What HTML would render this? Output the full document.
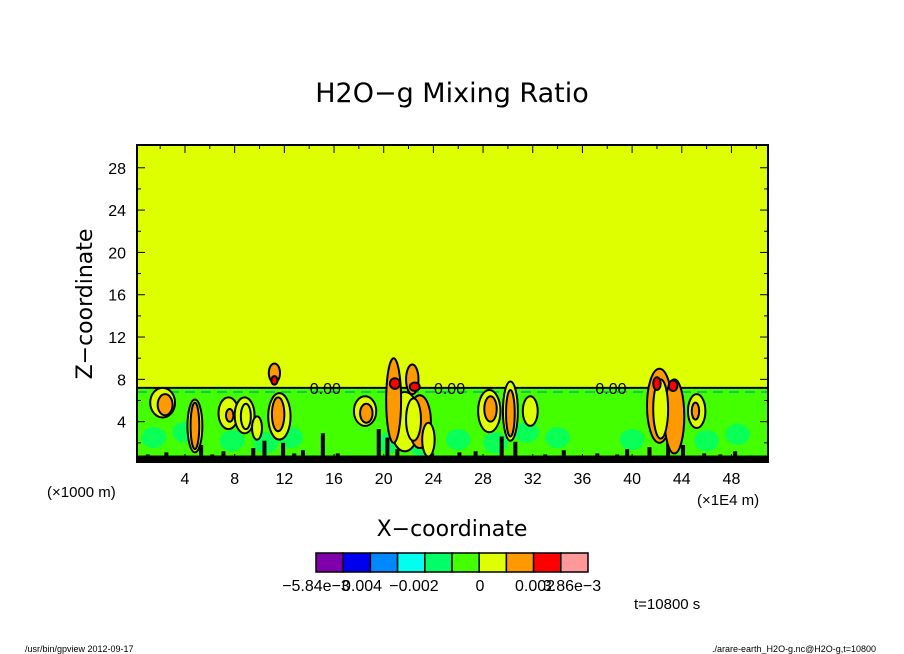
<!DOCTYPE html>
<html><head><meta charset="utf-8"><style>
body{margin:0;background:#fff;width:904px;height:654px;overflow:hidden}
svg{display:block;font-family:"Liberation Sans","DejaVu Sans",sans-serif}
</style></head><body>
<svg id="chart" width="904" height="654" xmlns="http://www.w3.org/2000/svg">
<text x="452" y="102" font-size="27" text-anchor="middle" font-family="DejaVu Sans">H2O−g Mixing Ratio</text>
<g id="plot"></g>
<g id="axes"></g>
<text x="452" y="536" font-size="22" text-anchor="middle" font-family="DejaVu Sans">X−coordinate</text>
<text x="0" y="0" font-size="22" text-anchor="middle" font-family="DejaVu Sans" transform="translate(92,304) rotate(-90)">Z−coordinate</text>
<text x="47" y="497" font-size="15">(×1000 m)</text>
<text x="697" y="505" font-size="15">(×1E4 m)</text>
<g id="cbar"></g>
<text x="634" y="609" font-size="15">t=10800 s</text>
<text x="25" y="652" font-size="9">/usr/bin/gpview  2012-09-17</text>
<text x="876" y="652" font-size="9" text-anchor="end">./arare-earth_H2O-g.nc@H2O-g,t=10800</text>
</svg>
<script>
const xTicks=[4,8,12,16,20,24,28,32,36,40,44,48];
const zTicks=[4,8,12,16,20,24,28];
const layerTop=7.2;
// blobs: x, z, rx(x units), rz(z units), level (6=yellow,7=orange,8=red)
const blobX=[2.2,2.4,4.8,4.8,7.5,7.6,8.8,8.9,9.8,11.6,11.5,11.2,11.2,18.5,18.6,21.7,20.8,22.3,22.9,23.6,22.4,28.5,28.6,30.2,30.2,31.8,42.2,43.4,42.3,42.0,43.3,45.2,45.1,20.9,22.5];
const blobZ=[5.8,5.6,3.6,3.6,4.8,4.6,4.6,4.5,3.4,4.5,4.7,8.6,7.9,5.0,4.8,4.0,6.0,8.0,4.0,2.3,4.2,5.0,5.2,5.0,4.8,5.0,5.5,4.5,5.2,7.6,7.4,5.0,5.0,7.6,7.3];
const blobRX=[1.0,0.6,0.6,0.35,0.8,0.3,0.8,0.4,0.4,0.9,0.5,0.45,0.25,0.9,0.5,1.2,0.6,0.5,0.9,0.5,0.6,0.9,0.5,0.6,0.35,0.6,1.0,0.8,0.6,0.3,0.35,0.7,0.3,0.4,0.4];
const blobRZ=[1.4,1.0,2.5,2.2,1.5,0.6,1.7,1.2,1.1,2.2,1.6,0.9,0.4,1.4,0.9,2.8,4.0,1.4,2.5,1.6,2.0,2.0,1.2,2.8,2.2,1.4,3.5,3.5,2.8,0.6,0.5,1.6,0.8,0.5,0.4];
const blobLevel=[6,7,6,7,6,7,6,6,6,6,7,7,8,6,7,6,7,7,7,6,6,6,7,6,7,6,7,7,6,8,8,6,7,8,8];
// ground clutter: black spikes
const spikeX=[1,2.5,4.1,5.3,6.2,7.1,8.2,9.5,10.4,11.9,12.8,13.5,14.4,15.1,16.3,17.2,19.6,20.3,21.1,23.9,25.2,26.1,27.4,29.5,30.6,33.0,34.5,35.6,37.2,38.8,39.6,41.4,42.9,44.1,45.8,47.1,48.3,49.5];
const spikeH=[0.9,1.1,0.8,1.8,0.9,1.2,0.7,1.5,2.2,2.0,1.0,1.3,0.8,2.9,1.0,0.8,3.3,2.5,1.4,1.0,0.8,1.1,1.2,2.6,2.1,0.9,1.3,0.8,1.0,0.9,1.4,1.6,2.6,1.8,1.0,0.9,1.2,0.8];
// spring-green patches
const patchX=[1.5,4.0,7.8,10.5,12.5,20.5,23.0,26.0,29.0,31.5,34.0,40.0,42.5,46.0,48.5];
const patchZ=[2.5,3.0,2.2,2.0,2.5,2.0,1.8,2.3,2.0,3.0,2.5,2.3,3.5,2.2,2.8];
const cbColors=["#7f00aa","#0000ee","#0088ff","#00ffee","#00ff66","#44ff00","#ddff00","#ff9900","#ff0000","#ff9999"];
const cbLabels=["−5.84e−3","0.004","−0.002","0","0.002","3.86e−3"];
const NS="http://www.w3.org/2000/svg";
const X0=135.3,XS=12.42,Z0=464,ZS=10.58,L=137,R=768,T=145,B=462;
const sx=v=>X0+v*XS, sz=v=>Z0-v*ZS;
const levelColor=[null,null,null,null,"#00ff66","#44ff00","#ddff00","#ff9900","#ff0000"];
function mk(p,t,a){const e=document.createElementNS(NS,t);for(const k in a)e.setAttribute(k,a[k]);p.appendChild(e);return e;}
const plot=document.getElementById('plot');
let e=mk(plot,'rect',{x:L,y:T,width:R-L,height:B-T,fill:'#ddff00'});


e=mk(plot,'rect',{x:L,y:sz(layerTop),width:R-L,height:B-sz(layerTop),fill:'#44ff00'});


patchX.forEach((v,i)=>{
  const p=mk(plot,'ellipse',{cx:sx(v),cy:sz(patchZ[i]),rx:XS*1.0,ry:ZS*1.0,fill:'#00ff66',opacity:0.85});
  
  
});
e=mk(plot,'rect',{x:L,y:sz(0.8),width:R-L,height:B-sz(0.8),fill:'#000'});


spikeX.forEach((v,i)=>{
  const s=mk(plot,'rect',{x:sx(v)-2,y:sz(spikeH[i]),width:4,height:B-sz(spikeH[i]),fill:'#000'});
  
  
});
e=mk(plot,'line',{x1:L,x2:R,y1:sz(layerTop),y2:sz(layerTop),stroke:'#000','stroke-width':2});


e=mk(plot,'line',{x1:L,x2:R,y1:sz(layerTop-0.4),y2:sz(layerTop-0.4),stroke:'#00bb66','stroke-width':1.5,'stroke-dasharray':'10 6'});


blobX.forEach((v,i)=>{
  const b=mk(plot,'ellipse',{cx:sx(v),cy:sz(blobZ[i]),rx:blobRX[i]*XS,ry:blobRZ[i]*ZS,fill:levelColor[blobLevel[i]],stroke:'#000','stroke-width':2});
  
  
});
[15.3,25.3,38.3].forEach(v=>{
  const t=mk(plot,'text',{x:sx(v),y:sz(layerTop)+6,'font-size':16,'text-anchor':'middle',fill:'#000'});
  t.textContent='0.00';
  
  
});
const ax=document.getElementById('axes');
e=mk(ax,'rect',{x:L,y:T,width:R-L,height:B-T,fill:'none',stroke:'#000','stroke-width':2});


for(let v=2;v<=50;v+=2){const p=sx(v),len=v%4?4:8;
  mk(ax,'line',{x1:p,x2:p,y1:B,y2:B-len,stroke:'#000'});mk(ax,'line',{x1:p,x2:p,y1:T,y2:T+len,stroke:'#000'});}
for(let v=2;v<=28;v+=2){const p=sz(v),len=v%4?4:8;
  mk(ax,'line',{x1:L,x2:L+len,y1:p,y2:p,stroke:'#000'});mk(ax,'line',{x1:R,x2:R-len,y1:p,y2:p,stroke:'#000'});}
xTicks.forEach(v=>{const t=mk(ax,'text',{x:sx(v),y:484,'font-size':16,'text-anchor':'middle'});t.textContent=v;
  
  });
zTicks.forEach(v=>{const t=mk(ax,'text',{x:126,y:sz(v)+6,'font-size':16,'text-anchor':'end'});t.textContent=v;
  
  });
const cb=document.getElementById('cbar');const cw=27.2;
cbColors.forEach((c,i)=>{const r=mk(cb,'rect',{x:316+i*cw,y:553,width:cw,height:19,fill:c,stroke:'#000','stroke-width':1.5});
  
  });
const cbX=[316,362,414,480,535,572];
cbLabels.forEach((s,i)=>{const t=mk(cb,'text',{x:cbX[i],y:591,'font-size':16,'text-anchor':'middle'});t.textContent=s;
  
  });
</script>
</body></html>
